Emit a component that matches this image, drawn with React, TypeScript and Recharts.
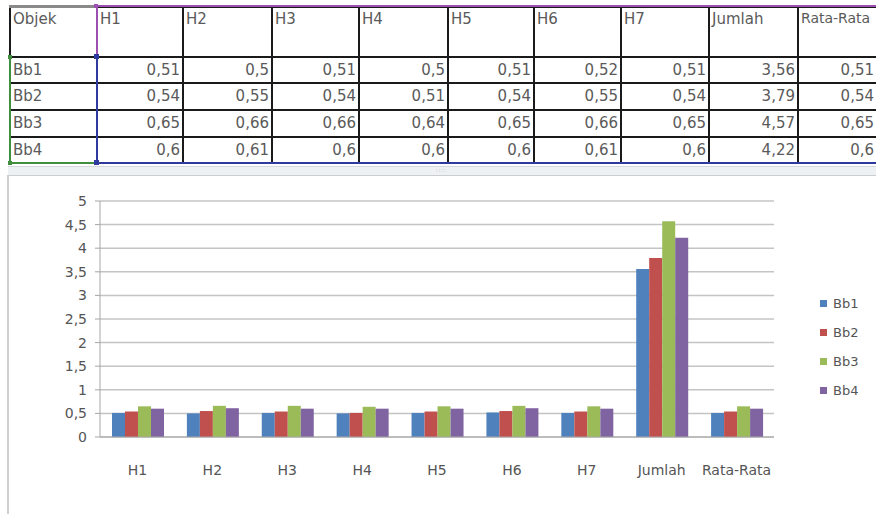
import { BarChart, Bar, XAxis, YAxis, CartesianGrid } from "recharts";

const categories = ["H1", "H2", "H3", "H4", "H5", "H6", "H7", "Jumlah", "Rata-Rata"];
const seriesNames = ["Bb1", "Bb2", "Bb3", "Bb4"];
const bb1 = [0.51, 0.5, 0.51, 0.5, 0.51, 0.52, 0.51, 3.56, 0.51];
const bb2 = [0.54, 0.55, 0.54, 0.51, 0.54, 0.55, 0.54, 3.79, 0.54];
const bb3 = [0.65, 0.66, 0.66, 0.64, 0.65, 0.66, 0.65, 4.57, 0.65];
const bb4 = [0.6, 0.61, 0.6, 0.6, 0.6, 0.61, 0.6, 4.22, 0.6];
const yTicks = [0, 0.5, 1, 1.5, 2, 2.5, 3, 3.5, 4, 4.5, 5];

const COLORS = ["#4f81bd", "#c0504d", "#9bbb59", "#8064a2"];
const seriesValues = [bb1, bb2, bb3, bb4];

// column borders / row borders of the sheet snippet
const colX = [10, 97, 183, 272, 359, 448, 534, 621, 709, 798, 877];
const rowY = [7, 57, 83, 110, 137, 163];

const fmt = (v: number) => String(v).replace(".", ",");

const data = categories.map((c, i) => {
  const row: Record<string, string | number> = { name: c };
  seriesNames.forEach((s, k) => { row[s] = seriesValues[k][i]; });
  return row;
});

const FONT = "'DejaVu Sans', Verdana, sans-serif";
const cellFont = { fontFamily: FONT, fontSize: 15, color: "#5a5a5a" };

function Sheet() {
  const header = ["Objek", ...categories];
  const cells: JSX.Element[] = [];
  header.forEach((h, c) => {
    cells.push(
      <div key={"h" + c} style={{ position: "absolute", left: colX[c] + 3, top: rowY[0] + 3, ...cellFont, fontSize: c === header.length - 1 ? 14 : 15 }}>{h}</div>
    );
  });
  seriesNames.forEach((s, r) => {
    const top = rowY[r + 1];
    const h = rowY[r + 2] - top;
    cells.push(
      <div key={"n" + r} style={{ position: "absolute", left: colX[0] + 3, top, height: h, lineHeight: h + "px", ...cellFont }}>{s}</div>
    );
    seriesValues[r].forEach((v, c) => {
      cells.push(
        <div key={"v" + r + "-" + c} style={{ position: "absolute", left: colX[c + 1], width: colX[c + 2] - colX[c + 1] - 3, top, height: h, lineHeight: h + "px", textAlign: "right", ...cellFont }}>{fmt(v)}</div>
      );
    });
  });
  const lines: JSX.Element[] = [];
  colX.slice(0, 10).forEach((x, i) => lines.push(<div key={"cx" + i} style={{ position: "absolute", left: x - 1, top: rowY[0], width: 2, height: rowY[5] - rowY[0], background: "#1a1a1a" }} />));
  rowY.forEach((y, i) => lines.push(<div key={"ry" + i} style={{ position: "absolute", left: colX[0], top: y - 1, width: 880, height: 2, background: "#1a1a1a" }} />));
  return (
    <div>
      {lines}
      {/* reference highlights */}
      <div style={{ position: "absolute", left: colX[0] - 1, top: rowY[0] - 2, width: colX[1] - colX[0], height: 3, background: "#8a8a8a" }} />
      <div style={{ position: "absolute", left: colX[1] - 1, top: rowY[0] - 2, width: 880, height: 2, background: "#9b4fb0" }} />
      <div style={{ position: "absolute", left: colX[1] - 1, top: rowY[0], width: 2, height: rowY[1] - rowY[0], background: "#9b4fb0" }} />
      <div style={{ position: "absolute", left: colX[0] - 1, top: rowY[1], width: 2, height: rowY[5] - rowY[1], background: "#3f8f3f" }} />
      <div style={{ position: "absolute", left: colX[0] - 1, top: rowY[5] - 1, width: colX[1] - colX[0], height: 2, background: "#3f8f3f" }} />
      <div style={{ position: "absolute", left: colX[1] - 1, top: rowY[1], width: 2, height: rowY[5] - rowY[1], background: "#2e3aa0" }} />
      <div style={{ position: "absolute", left: colX[1] - 1, top: rowY[5] - 1, width: 880, height: 2, background: "#2e3aa0" }} />
      <div style={{ position: "absolute", left: colX[1] - 3, top: rowY[1] - 3, width: 5, height: 5, background: "#2e3aa0" }} />
      <div style={{ position: "absolute", left: colX[1] - 3, top: rowY[5] - 3, width: 5, height: 5, background: "#2e3aa0" }} />
      <div style={{ position: "absolute", left: colX[1] - 3, top: rowY[0] - 3, width: 4, height: 4, background: "#9b4fb0" }} />
      <div style={{ position: "absolute", left: colX[0] - 2, top: rowY[1] - 2, width: 4, height: 4, background: "#3f8f3f" }} />
      <div style={{ position: "absolute", left: colX[0] - 2, top: rowY[5] - 2, width: 4, height: 4, background: "#3f8f3f" }} />
      {cells}
    </div>
  );
}

export default function App() {
  return (
    <div style={{ position: "fixed", left: 0, top: 0, width: 876, height: 514, overflow: "hidden", background: "#ffffff" }}>
      <Sheet />
      {/* splitter */}
      <div style={{ position: "absolute", left: 8, top: 166, width: 868, height: 8, background: "#eef1f4", borderTop: "1px solid #d5d9de", borderBottom: "1px solid #c9cdd2" }} />
      <div style={{ position: "absolute", left: 436, top: 167, fontSize: 6, color: "#9aa0a6", letterSpacing: 1, fontFamily: "sans-serif" }}>::::</div>
      <div style={{ position: "absolute", left: 7, top: 175, width: 2, height: 339, background: "#d0d0d0" }} />
      <div style={{ position: "absolute", left: 0, top: 175 }}>
        <BarChart width={876} height={339} data={data} margin={{ top: 26, right: 102, bottom: 0, left: 0 }}
          barCategoryGap="16%" barGap={0}>
          <CartesianGrid vertical={false} stroke="#c4c4c4" strokeWidth={1.5} />
          <XAxis dataKey="name" height={77} interval={0} tickLine={false} tickMargin={22}
            axisLine={{ stroke: "#a6a6a6" }}
            tick={{ fontSize: 14, fill: "#555555", fontFamily: FONT }} />
          <YAxis width={100} domain={[0, 5]} ticks={yTicks} interval={0} tickFormatter={fmt}
            axisLine={{ stroke: "#a6a6a6" }} tickLine={{ stroke: "#a6a6a6" }} tickSize={5} tickMargin={8}
            tick={{ fontSize: 14, fill: "#555555", fontFamily: FONT }} />
          {seriesNames.map((s, i) => (
            <Bar key={s} dataKey={s} fill={COLORS[i]} isAnimationActive={false} />
          ))}
        </BarChart>
      </div>
      {/* legend */}
      <div style={{ position: "absolute", left: 820, top: 289 }}>
        {seriesNames.map((s, i) => (
          <div key={s} style={{ display: "flex", alignItems: "center", height: 29 }}>
            <span style={{ width: 7, height: 7, background: COLORS[i], marginRight: 6 }} />
            <span style={{ fontSize: 13, color: "#555555", fontFamily: FONT }}>{s}</span>
          </div>
        ))}
      </div>
    </div>
  );
}
